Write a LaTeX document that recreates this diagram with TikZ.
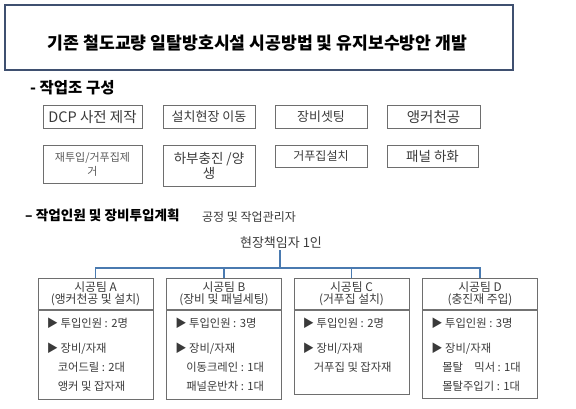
\documentclass[tikz,border=0pt]{standalone}
\usepackage{fontspec}
\setmainfont{Noto Sans CJK KR}
\usepackage{xcolor}
\usetikzlibrary{positioning}
\usetikzlibrary{calc}

\definecolor{titleline}{HTML}{3F5070}
\definecolor{boxline}{HTML}{6E6E6E}
\definecolor{boxtext}{HTML}{3A3A3A}
\definecolor{linkblue}{HTML}{4A7AB0}

\tikzset{
  workbox/.style={draw=boxline, line width=0.8pt, anchor=north, inner sep=1pt,
    text=boxtext, align=center, font=\fontsize{13}{15}\selectfont},
  smallwork/.style={workbox, font=\fontsize{11}{13.5}\selectfont, text=black!65},
  teamhead/.style={draw=boxline, line width=0.8pt, anchor=north, minimum width=115pt,
    minimum height=31pt, inner sep=0pt, align=center, text=boxtext,
    font=\fontsize{11.8}{12.5}\selectfont},
  teamframe/.style={draw=boxline, line width=0.8pt, anchor=north, minimum width=115pt, inner sep=0pt},
  teamtext/.style={anchor=north west, inner sep=0pt, align=left, text=boxtext,
    font=\fontsize{11.3}{19}\selectfont},
  divider/.style={draw=black!55, line width=1.8pt},
  link/.style={draw=linkblue, line width=1.6pt}
}

\begin{document}
\begin{tikzpicture}[x=1pt,y=-1pt]
\useasboundingbox (0,0) rectangle (576,408);

\node[draw=titleline, line width=1.4pt, minimum width=508pt, minimum height=65pt, inner sep=0pt] (title) at (259,37.5) {};
\node[inner sep=0pt, font=\fontsize{17.2}{19}\selectfont\bfseries] (titletext) at (257.5,43) {기존 철도교량 일탈방호시설 시공방법 및 유지보수방안 개발};

\node[anchor=west, inner sep=0pt, font=\fontsize{15.5}{17}\selectfont\bfseries] (crew) at (30,88) {- 작업조 구성};

% work steps
\node[workbox, minimum width=99pt, minimum height=23pt, font=\fontsize{14.5}{16}\selectfont] (w1) at (92.5,105) {DCP 사전 제작};
\node[workbox, minimum width=92pt, minimum height=23pt] (w2) at (209,105) {설치현장 이동};
\node[workbox, minimum width=92pt, minimum height=23pt] (w3) at (321,105) {장비셋팅};
\node[workbox, minimum width=93pt, minimum height=23pt, font=\fontsize{14.5}{16}\selectfont] (w4) at (433.5,105) {앵커천공};

\node[smallwork, minimum width=99pt, minimum height=38pt] (w5) at (92.5,145) {재투입/거푸집제\\거};
\node[workbox, minimum width=92pt, minimum height=41pt, font=\fontsize{13.5}{15.5}\selectfont] (w6) at (209,145) {하부충진 /양\\생};
\node[workbox, minimum width=92pt, minimum height=22pt, font=\fontsize{12}{14}\selectfont] (w7) at (321,145) {거푸집설치};
\node[workbox, minimum width=91pt, minimum height=22pt, font=\fontsize{13.5}{15}\selectfont] (w8) at (432.5,145) {패널 하화};

\node[anchor=west, inner sep=0pt, font=\fontsize{13.6}{15}\selectfont\bfseries] (plan) at (25,215) {– 작업인원 및 장비투입계획};
\node[anchor=west, inner sep=0pt, text=boxtext, font=\fontsize{12}{13}\selectfont] (mgr) at (202,217) {공정 및 작업관리자};
\node[inner sep=1pt, text=boxtext, font=\fontsize{13}{14}\selectfont] (lead) at (281,243) {현장책임자 1인};

% teams
\node[teamhead] (hA) at (95.5,278) {시공팀 A\\(앵커천공 및 설치)};
\node[teamhead] (hB) at (224,278) {시공팀 B\\(장비 및 패널세팅)};
\node[teamhead] (hC) at (351.5,278) {시공팀 C\\(거푸집 설치)};
\node[teamhead] (hD) at (480,278) {시공팀 D\\(충진재 주입)};

\node[teamframe, minimum height=89pt] (bA) at (hA.south) {};
\node[teamframe, minimum height=89pt] (bB) at (hB.south) {};
\node[teamframe, minimum height=84pt] (bC) at (hC.south) {};
\node[teamframe, minimum height=88pt] (bD) at (hD.south) {};

\draw[divider] (hA.south west) -- (hA.south east);
\draw[divider] (hB.south west) -- (hB.south east);
\draw[divider] (hC.south west) -- (hC.south east);
\draw[divider] (hD.south west) -- (hD.south east);

\node[teamtext] (tA) at ($(bA.north west)+(9,7.5)$) {▶ 투입인원 : 2명\\[6pt]▶ 장비/자재\\\hspace*{11pt}코어드릴 : 2대\\\hspace*{11pt}앵커 및 잡자재};
\node[teamtext] (tB) at ($(bB.north west)+(9,7.5)$) {▶ 투입인원 : 3명\\[6pt]▶ 장비/자재\\\hspace*{11pt}이동크레인 : 1대\\\hspace*{11pt}패널운반차 : 1대};
\node[teamtext] (tC) at ($(bC.north west)+(9,7.5)$) {▶ 투입인원 : 2명\\[6pt]▶ 장비/자재\\\hspace*{11pt}거푸집 및 잡자재};
\node[teamtext] (tD) at ($(bD.north west)+(9,7.5)$) {▶ 투입인원 : 3명\\[6pt]▶ 장비/자재\\\hspace*{11pt}몰탈\quad 믹서 : 1대\\\hspace*{11pt}몰탈주입기 : 1대};

\coordinate (bus) at (280,268);
\draw[link] (lead.south -| bus) -- (bus);
\draw[link] (hA.north) -- (hA.north |- bus) -- (hD.north |- bus) -- (hD.north);
\draw[link] (hB.north) -- (hB.north |- bus);
\draw[link] (hC.north) -- (hC.north |- bus);
\end{tikzpicture}
\end{document}
